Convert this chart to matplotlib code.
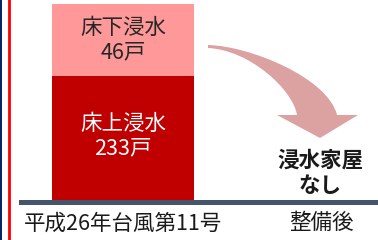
import matplotlib
matplotlib.use("Agg")
import matplotlib.pyplot as plt
from matplotlib.lines import Line2D
from matplotlib.patches import PathPatch
from matplotlib.path import Path

plt.rcParams['font.family'] = ['Noto Sans CJK JP', 'DejaVu Sans']

# data (the chart is schematic: drawn heights are not to scale with the counts)
categories = ['平成26年台風第11号', '整備後']
above_count = [233, 0]    # 床上浸水 (houses)
below_count = [46, 0]     # 床下浸水 (houses)
above_height = [128, 0]   # drawn segment heights
below_height = [72, 0]
after_label = '浸水家屋\nなし'

W, H = 378, 240
fig = plt.figure(figsize=(W / 100, H / 100), dpi=100)

# axes: bottom at y=204px, category centres at x=123px and 321px
ax = fig.add_axes([0, 1 - 204 / H, 1, 204 / H])
ax.set_xlim(-123 / 198, (W - 123) / 198)
total = above_height[0] + below_height[0]
ax.set_ylim(0, total * 204 / 200)

x = range(len(categories))
width = 142 / 198
ax.bar(x, above_height, width, color='#C00000')
ax.bar(x, below_height, width, bottom=above_height, color='#FF9999')

ax.text(0, above_height[0] / 2 + 4, f'床上浸水\n{above_count[0]}戸', ha='center', va='center',
        color='white', fontsize=15.5, linespacing=1.1)
ax.text(0, above_height[0] + below_height[0] / 2, f'床下浸水\n{below_count[0]}戸', ha='center',
        va='center', color='#262626', fontsize=15.5, linespacing=1.1)

ax.set_xticks(list(x))
ax.set_xticklabels(categories, fontsize=15.5, color='#1a1a1a')
ax.tick_params(axis='x', length=0, pad=6)
ax.set_yticks([])
for s in ax.spines.values():
    s.set_visible(False)
ax.patch.set_alpha(0)

# "no flooded houses" label
fig.text(320 / W, 1 - 173 / H, after_label, ha='center', va='center', fontsize=15.5,
         fontweight='bold', color='#1a1a1a', linespacing=1.25)

# baseline
fig.add_artist(Line2D([21 / W, 1], [1 - 201.5 / H] * 2, color='#44546A', lw=3.6,
                      transform=fig.transFigure))

# left border lines
fig.add_artist(Line2D([0.8 / W] * 2, [0, 1], color='#002060', lw=1.4, transform=fig.transFigure))
fig.add_artist(Line2D([9 / W] * 2, [0, 1], color='#FF0000', lw=2.0, transform=fig.transFigure))


# curved arrow (pixel coords, y from top)
def px(p):
    return (p[0] / W, 1 - p[1] / H)


pts = [(208, 45), (250, 46), (328, 78), (337, 115),
       (358, 115), (320, 138), (277, 115), (297, 115),
       (293, 90), (250, 50), (208, 48), (208, 45)]
codes = [Path.MOVETO, Path.CURVE4, Path.CURVE4, Path.CURVE4,
         Path.LINETO, Path.LINETO, Path.LINETO, Path.LINETO,
         Path.CURVE4, Path.CURVE4, Path.CURVE4, Path.CLOSEPOLY]
arrow = PathPatch(Path([px(p) for p in pts], codes), facecolor='#DCA2A2', edgecolor='none',
                  transform=fig.transFigure)
fig.add_artist(arrow)

fig.savefig('out.png', dpi=100)
